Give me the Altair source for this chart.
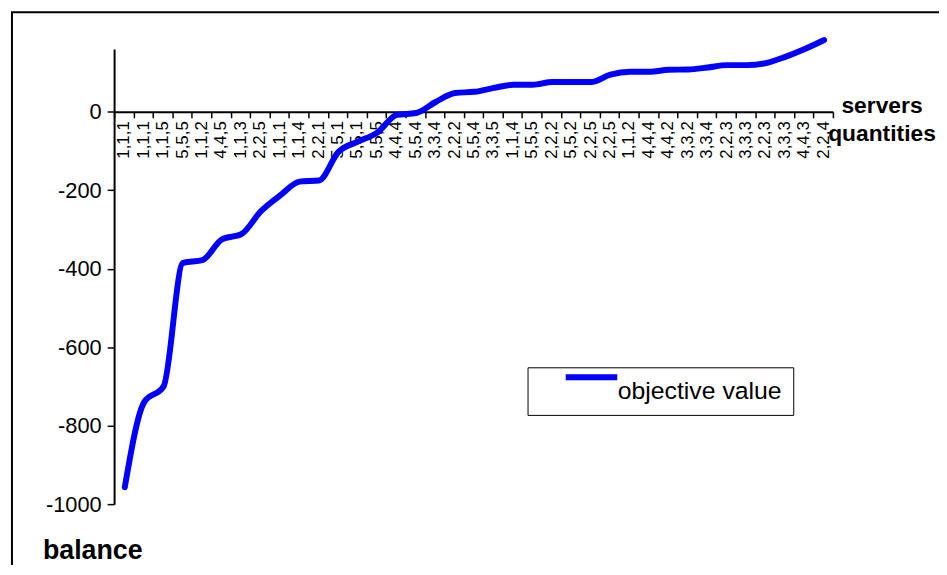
import json
import altair as alt
import pandas as pd

labels = ["1,1,1", "1,1,1", "1,1,5", "5,5,5", "1,1,2", "4,4,5", "1,1,3", "2,2,5",
          "1,1,1", "1,1,4", "2,2,1", "5,5,1", "5,5,1", "5,5,5", "4,4,4", "5,5,4",
          "3,3,4", "2,2,2", "5,5,4", "3,3,5", "1,1,4", "5,5,5", "2,2,2", "5,5,2",
          "2,2,5", "2,2,5", "1,1,2", "4,4,4", "4,4,2", "3,3,2", "3,3,4", "2,2,3",
          "3,3,3", "2,2,3", "3,3,3", "4,4,3", "2,2,4"]
values = [-957, -740, -700, -385, -378, -325, -312, -254, -213, -178, -175, -102,
          -76, -53, -8, -3, 25, 48, 51, 61, 69, 69, 76, 76, 76, 95, 102, 102, 107,
          108, 113, 119, 119, 124, 140, 160, 183]
series_name = "objective value"
y_ticks = [-1000, -800, -600, -400, -200, 0]

df = pd.DataFrame({"i": list(range(len(values))), "v": values, "s": series_name})

W, H = 725, 459
YMIN, YMAX = -1000, 160
zero_from_top = H * (YMAX - 0) / (YMAX - YMIN)
FONT = "Liberation Sans"

label_expr = json.dumps(labels) + "[datum.value]"

line = alt.Chart(df).mark_line(
    strokeWidth=6, strokeCap="round", strokeJoin="round", interpolate="monotone"
).encode(
    x=alt.X("i:O", bandPosition=0.55,
            scale=alt.Scale(type="band", paddingInner=0, paddingOuter=0),
            axis=alt.Axis(
                labelExpr=label_expr, labelAngle=-90, labelFontSize=17,
                labelFont=FONT, labelColor="black", labelPadding=3,
                tickBand="extent", tickSize=6, tickColor="black", tickWidth=1.5,
                domainColor="black", domainWidth=2, offset=-(H - zero_from_top),
                grid=False,
                title=["servers", "quantities"], titleFont=FONT, titleFontSize=23,
                titleFontWeight="bold", titleColor="black", titleAngle=0,
                titleAlign="center", titleBaseline="alphabetic",
                titleX=774, titleY=1, titleLineHeight=28, labelOverlap=False,
            )),
    y=alt.Y("v:Q",
            scale=alt.Scale(domain=[YMIN, YMAX], nice=False, zero=False),
            axis=alt.Axis(
                values=y_ticks, labelExpr="'' + datum.value",
                labelFontSize=22, labelFont=FONT,
                labelColor="black", labelPadding=6, tickSize=7, tickColor="black",
                tickWidth=1.5, domainColor="black", domainWidth=2, grid=False,
                title="balance", titleFont=FONT, titleFontSize=27,
                titleFontWeight="bold", titleColor="black", titleAngle=0,
                titleAlign="center", titleBaseline="alphabetic",
                titleX=-22, titleY=514,
            )),
    color=alt.Color("s:N", scale=alt.Scale(range=["#0000ff"]),
                    legend=alt.Legend(
                        title=None, orient="none", legendX=417, legendY=321,
                        symbolType="M3.0,-2.7H13.4", symbolStrokeWidth=6,
                        symbolSize=100,
                        labelFontSize=25, labelFont=FONT, labelColor="black",
                        labelBaseline="middle", labelOffset=55, labelLimit=400,
                        strokeColor="black", padding=11,
                    )),
)

frame = alt.Chart(pd.DataFrame({"a": [0]})).mark_rect(
    fill=None, stroke="black", strokeWidth=2
).encode(
    x=alt.value(-103), y=alt.value(-37), x2=alt.value(900), y2=alt.value(600)
)

chart = alt.layer(frame, line).properties(
    width=W, height=H,
    autosize=alt.AutoSizeParams(type="none"),
    padding={"left": 107, "top": 39, "right": 939 - 107 - W, "bottom": 59},
).configure(background="white").configure_view(stroke=None)

chart.save("out.html", embed_options={"renderer": "svg", "actions": False})
